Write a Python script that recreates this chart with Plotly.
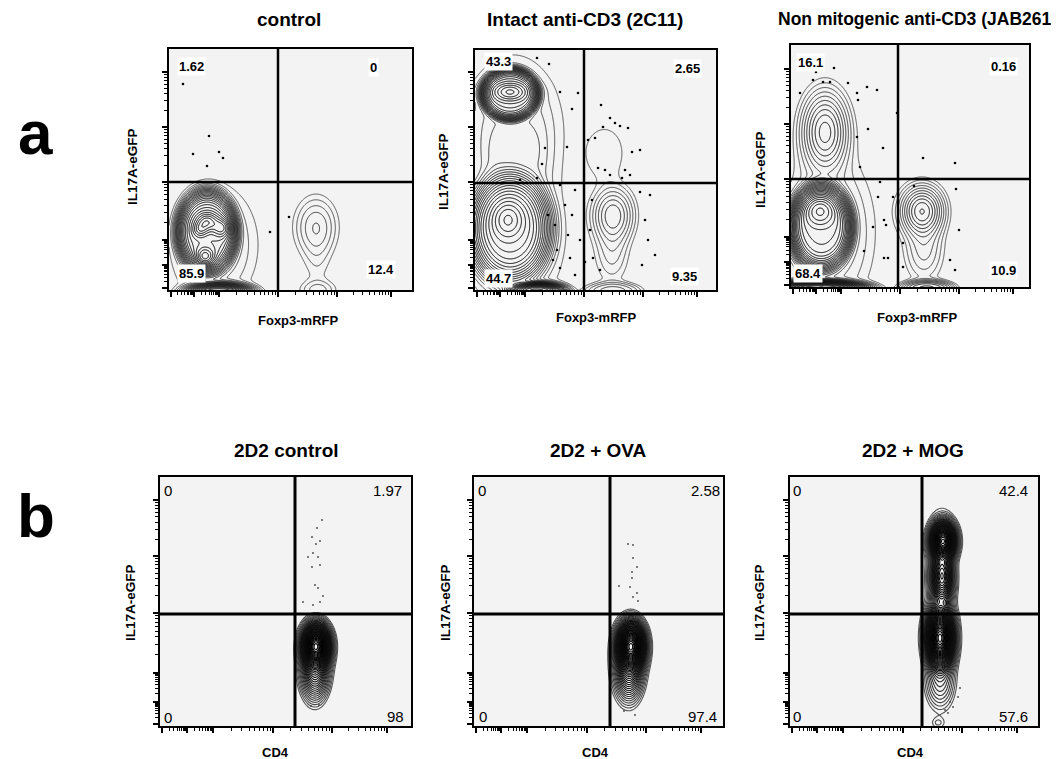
import numpy as np
import plotly.graph_objects as go

# page body has an 8 px margin; the figure is drawn 8 px in from the top-left corner
PAGE_OFF = 8
FIG_W, FIG_H = 1051, 751

# ---------------- data ----------------
titles_a = ["control", "Intact anti-CD3 (2C11)", "Non mitogenic anti-CD3 (JAB261)"]
titles_b = ["2D2 control", "2D2 + OVA", "2D2 + MOG"]
xlabel_a = "Foxp3-mRFP"
xlabel_b = "CD4"
ylabel = "IL17A-eGFP"

# quadrant percentages: UL, UR, LL, LR
quad_pct = [
    ["1.62", "0", "85.9", "12.4"],
    ["43.3", "2.65", "44.7", "9.35"],
    ["16.1", "0.16", "68.4", "10.9"],
    ["0", "1.97", "0", "98"],
    ["0", "2.58", "0", "97.4"],
    ["0", "42.4", "0", "57.6"],
]

# quadrant gates (channel units)
gate_x = [109, 109, 107, 135, 136, 132]
gate_y = [108, 107, 108, 112, 112, 112]

# cell populations: centre x, centre y, spread x, spread y, weight, shape
pops_a1 = [
    [38, 58, 23, 32, 1.0, 2.5],
    [38, 68, 7, 6, 0.8, 1],
    [53, 62, 6, 6, 0.6, 1],
    [31, 60, 5, 5, 0.5, 1],
    [36, 33, 6, 6, 0.7, 1],
    [50, -4, 22, 7, 1.0, 1.5],
    [45, 45, 25, 35, 0.04, 1],
    [147, 63, 12, 17, 0.055, 1],
    [148, 30, 9, 20, 0.012, 1],
    [149, 0, 11, 6, 0.03, 1],
]
pops_a2 = [
    [35, 196, 23, 21, 1.0, 3],
    [35, 198, 11, 6, 0.8, 1],
    [38, 160, 28, 42, 0.04, 1],
    [18, 130, 8, 22, 0.012, 1],
    [62, 135, 8, 22, 0.012, 1],
    [35, 62, 29, 39, 0.8, 2],
    [33, 70, 10, 12, 0.5, 1],
    [62, -2, 18, 6, 1.2, 1.5],
    [40, 50, 30, 45, 0.03, 1],
    [130, 137, 19, 26, 0.011, 2],
    [138, 75, 11, 15, 0.12, 1],
    [137, 40, 10, 20, 0.03, 1],
    [138, -2, 20, 7, 0.06, 1.5],
]
pops_a3 = [
    [34, 155, 12, 21, 0.2, 1],
    [30, 60, 24, 33, 1.0, 2.5],
    [29, 76, 10, 10, 0.6, 1],
    [30, -3, 30, 6, 1.2, 1.5],
    [38, 55, 25, 45, 0.04, 1],
    [131, 76, 11, 13, 0.22, 1],
    [133, 40, 11, 20, 0.04, 1],
    [136, -2, 18, 6, 0.15, 1.5],
]
pops_b1 = [
    [156, 80, 6.5, 10, 1.0, 1],
    [155, 60, 7, 16, 0.15, 1],
    [154, 62, 10, 22, 0.01, 1],
]
pops_b2 = [
    [157, 80, 6.5, 11, 1.0, 1],
    [155, 60, 7, 16, 0.15, 1],
    [153, 62, 11, 24, 0.012, 1],
]
pops_b3 = [
    [153, 185, 6, 9, 0.8, 1],
    [152, 150, 5.5, 14, 0.3, 1],
    [150, 88, 6.5, 14, 1.0, 1],
    [150, 45, 8, 15, 0.03, 1],
    [151, 130, 10, 60, 0.01, 1],
    [148, 3, 5, 4, 0.006, 1],
]

# rare single events (channel units)
dots_a1_x = [14, 40, 24, 50, 54, 38, 101, 120]
dots_a1_y = [206, 154, 136, 138, 132, 124, 58, 73]

dots_a2_x = [62, 74, 85, 103, 97, 92, 70, 67, 62, 45,
             126, 135, 140, 128, 145, 153, 120, 157, 165, 150, 155, 130, 123, 135, 147, 113,
             85, 100, 90, 97, 80, 93, 105, 82, 95, 110, 100, 85, 73, 78,
             117, 115, 118, 125, 170, 173, 167, 180, 165, 175]
dots_a2_y = [232, 226, 198, 197, 181, 143, 142, 126, 112, 110,
             185, 172, 167, 163, 164, 162, 152, 138, 140, 120, 115, 120, 122, 115, 112, 150,
             105, 100, 85, 75, 65, 55, 50, 40, 32, 28, 15, 22, 75, 30,
             90, 60, 32, 20, 70, 50, 25, 35, 98, 95]

dots_a3_x = [25, 43, 22, 32, 39, 57, 76, 86, 66, 67, 106, 77, 66, 92, 69, 132, 164, 9,
             89, 102, 87, 82, 93, 95, 73, 93, 97, 123, 165, 168, 112, 112, 164, 159]
dots_a3_y = [215, 219, 207, 205, 205, 204, 200, 197, 194, 187, 174, 158, 150, 139, 120, 129, 124, 194,
             105, 90, 90, 60, 67, 62, 36, 29, 29, 101, 98, 57, 44, 20, 17, 27]

dots_b1_x = [162, 157, 152, 160, 156, 148, 153, 158, 152, 160, 155, 158, 163, 143, 153, 160, 151, 159]
dots_b1_y = [206, 198, 189, 185, 182, 169, 173, 169, 159, 161, 141, 138, 130, 124, 121, 124, 20, 21]

dots_b2_x = [154, 159, 159, 163, 158, 158, 156, 145, 163, 159, 164, 150, 161]
dots_b2_y = [182, 181, 168, 159, 154, 148, 139, 140, 133, 129, 125, 15, 11]

dots_b3_x = [168, 163, 158, 155, 160, 170]
dots_b3_y = [29, 19, 13, 16, 24, 38]

# axis decade positions (channel units)
ticks_a_x = [2, 25, 50, 109, 168, 222]
ticks_a_y = [2, 25, 50, 108, 163, 218]
ticks_b_x = [2, 27, 53, 113, 172, 227]
ticks_b_y = [2, 24, 53, 113, 170, 226]

# ---------------- layout geometry (pixels: left, right, top, bottom) ----------------
frames = [
    (169, 412, 49, 290),
    (475, 716, 50, 290),
    (791, 1029, 45, 287),
    (160, 411, 477, 726),
    (474, 723, 477, 726),
    (790, 1038, 477, 726),
]
pops_all = [pops_a1, pops_a2, pops_a3, pops_b1, pops_b2, pops_b3]
dots_all = [(dots_a1_x, dots_a1_y), (dots_a2_x, dots_a2_y), (dots_a3_x, dots_a3_y),
            (dots_b1_x, dots_b1_y), (dots_b2_x, dots_b2_y), (dots_b3_x, dots_b3_y)]

FONT = "Liberation Sans, Arial, sans-serif"
CONTOUR_POWER = 0.35


def px(x):
    return (x - PAGE_OFF) / FIG_W


def py(y):
    return 1 - (y - PAGE_OFF) / FIG_H


def density(pops, W, H):
    gx = np.arange(0, W + 1, 1.0)
    gy = np.arange(0, H + 1, 1.0)
    X, Y = np.meshgrid(gx, gy)
    Z = np.zeros_like(X)
    for cx, cy, sx, sy, w, p in pops:
        q = ((X - cx) / sx) ** 2 + ((Y - cy) / sy) ** 2
        Z += w * np.exp(-0.5 * q ** p)
    return gx, gy, (Z / Z.max()) ** CONTOUR_POWER


def tick_sets(majors):
    minors = []
    for a, b in zip(majors[:-1], majors[1:]):
        for m in range(2, 10):
            minors.append(a + (b - a) * np.log10(m))
    return majors, minors


fig = go.Figure()
layout_axes = {}
shapes = []
annotations = []

for i, (L, R, T, B) in enumerate(frames):
    n = i + 1
    W, H = R - L, B - T
    is_a = i < 3
    xs = "x" if n == 1 else f"x{n}"
    ys = "y" if n == 1 else f"y{n}"
    gx, gy, tz = density(pops_all[i], W, H)
    if is_a:
        cont = dict(start=0.15, end=0.99, size=0.035, coloring="lines")
        lwid = 1.0
    else:
        cont = dict(start=0.15, end=0.99, size=0.022, coloring="lines")
        lwid = 1.1
    fig.add_trace(go.Contour(
        x=gx, y=gy, z=tz, xaxis=xs, yaxis=ys, contours=cont,
        colorscale=[[0, "#555555"], [0.3, "#111111"], [1, "#000000"]],
        line=dict(width=lwid, smoothing=0.6), showscale=False, hoverinfo="skip",
    ))
    dx, dy = dots_all[i]
    fig.add_trace(go.Scatter(
        x=dx, y=dy, xaxis=xs, yaxis=ys, mode="markers",
        marker=dict(size=2.6 if is_a else 1.8, color="black" if is_a else "#444"),
        showlegend=False, hoverinfo="skip",
    ))
    tx = ticks_a_x if is_a else ticks_b_x
    ty = ticks_a_y if is_a else ticks_b_y
    mjx, mnx = tick_sets(tx)
    mjy, mny = tick_sets(ty)
    lw = 2 if is_a else 1.5
    common = dict(showgrid=False, zeroline=False, showticklabels=False,
                  showline=True, mirror=True, linecolor="black", linewidth=lw,
                  ticks="outside", ticklen=5, tickwidth=1.8, tickcolor="black")
    layout_axes["xaxis" if n == 1 else f"xaxis{n}"] = dict(
        domain=[px(L), px(R)], anchor=ys, range=[0, W], tickvals=mjx,
        minor=dict(tickvals=mnx, ticks="outside", ticklen=3, tickwidth=1, tickcolor="black"),
        **common)
    layout_axes["yaxis" if n == 1 else f"yaxis{n}"] = dict(
        domain=[py(B), py(T)], anchor=xs, range=[0, H], tickvals=mjy,
        minor=dict(tickvals=mny, ticks="outside", ticklen=3, tickwidth=1, tickcolor="black"),
        **common)
    gw = 2.5 if is_a else 3
    shapes.append(dict(type="line", xref=xs, yref=ys, x0=gate_x[i], x1=gate_x[i], y0=0, y1=H,
                       line=dict(color="black", width=gw)))
    shapes.append(dict(type="line", xref=xs, yref=ys, x0=0, x1=W, y0=gate_y[i], y1=gate_y[i],
                       line=dict(color="black", width=gw)))

# quadrant label positions (pixels)
qpos = [
    [(191, 66), (373, 67), (191, 273), (381, 269)],
    [(498, 62), (687, 69), (498, 278), (684, 277)],
    [(810, 63), (1003, 66), (808, 273), (1003, 270)],
    [(168, 490), (387, 490), (168, 717), (395, 716)],
    [(482, 490), (705, 490), (483, 716), (702, 716)],
    [(797, 490), (1013, 490), (797, 716), (1013, 716)],
]
for i in range(6):
    is_a = i < 3
    for k in range(4):
        x, y = qpos[i][k]
        annotations.append(dict(
            x=px(x), y=py(y), xref="paper", yref="paper", text=quad_pct[i][k], showarrow=False,
            xanchor="center", yanchor="middle",
            font=dict(family=FONT, size=13 if is_a else 15, color="black",
                      weight="bold" if is_a else "normal"),
            bgcolor="white" if is_a else "rgba(0,0,0,0)", borderpad=1,
        ))

title_pos = [(289, 19, 19), (585, 19, 19), (917, 19, 17.5), (286, 450, 19), (598, 450, 19), (913, 450, 19)]
for i, (x, y, s) in enumerate(title_pos):
    t = (titles_a + titles_b)[i]
    annotations.append(dict(x=px(x), y=py(y), xref="paper", yref="paper", text=t, showarrow=False,
                            xanchor="center", yanchor="middle",
                            font=dict(family=FONT, size=s, color="black", weight="bold")))

xt_pos = [(298, 320), (596, 317), (917, 318), (275, 752), (595, 752), (910, 752)]
for i, (x, y) in enumerate(xt_pos):
    annotations.append(dict(x=px(x), y=py(y), xref="paper", yref="paper",
                            text=xlabel_a if i < 3 else xlabel_b, showarrow=False,
                            xanchor="center", yanchor="middle",
                            font=dict(family=FONT, size=13, color="black", weight="bold")))
yt_pos = [(132, 167), (443, 172), (760, 170), (130, 603), (445, 603), (759, 603)]
for i, (x, y) in enumerate(yt_pos):
    annotations.append(dict(x=px(x), y=py(y), xref="paper", yref="paper", text=ylabel,
                            showarrow=False, textangle=-90, xanchor="center", yanchor="middle",
                            font=dict(family=FONT, size=13.5, color="black", weight="bold")))

for letter, (x, y) in zip(["a", "b"], [(35, 133), (36, 515)]):
    annotations.append(dict(x=px(x), y=py(y), xref="paper", yref="paper", text=letter,
                            showarrow=False, xanchor="center", yanchor="middle",
                            font=dict(family=FONT, size=62, color="black", weight="bold")))

fig.update_layout(
    width=FIG_W, height=FIG_H, margin=dict(l=0, r=0, t=0, b=0),
    paper_bgcolor="white", plot_bgcolor="#f4f3f4", showlegend=False,
    shapes=shapes, annotations=annotations, **layout_axes,
)
fig.write_html("out.html")
